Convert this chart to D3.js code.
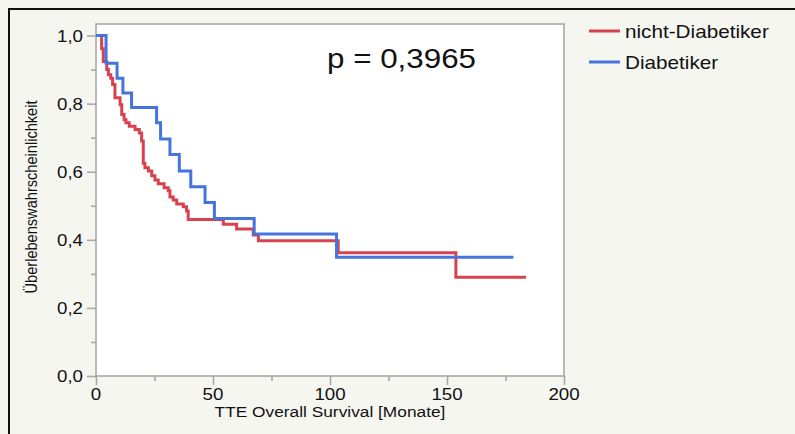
<!DOCTYPE html>
<html>
<head>
<meta charset="utf-8">
<script src="https://cdn.jsdelivr.net/npm/d3@7/dist/d3.min.js"></script>
<style>
  html, body { margin: 0; padding: 0; background: #f6f6f1; }
  svg { display: block; }
  text { font-family: "Liberation Sans", Arial, Helvetica, sans-serif; fill: #111; }
</style>
</head>
<body>
<svg id="chart" width="795" height="434"></svg>
<script>
// Kaplan-Meier estimates (time in months, survival probability)
const groups = ["nicht-Diabetiker", "Diabetiker"];
const groupColors = ["#d8424f", "#4474dc"];

const nichtDiabetikerTime = [0, 2.4, 3.1, 4.6, 5.3, 6.3, 7.1, 8.1, 10.3, 11.0, 12.0, 12.8, 14.2, 16.7, 18.5, 19.5, 20.2, 20.9, 22.4, 23.8, 25.2, 26.6, 29.1, 30.9, 31.6, 33.0, 34.5, 37.3, 38.7, 39.4, 54.4, 60.1, 67.2, 69.4, 103.5, 153.8];
const nichtDiabetikerSurv = [1.0, 0.961, 0.924, 0.900, 0.885, 0.875, 0.856, 0.817, 0.797, 0.768, 0.753, 0.744, 0.734, 0.724, 0.714, 0.690, 0.625, 0.612, 0.602, 0.588, 0.576, 0.565, 0.553, 0.544, 0.526, 0.517, 0.505, 0.497, 0.485, 0.460, 0.446, 0.432, 0.414, 0.397, 0.362, 0.290];
const nichtDiabetikerLast = 183.8;

const diabetikerTime = [0, 4.3, 9.0, 11.5, 15.2, 25.9, 27.6, 31.6, 35.6, 40.5, 46.6, 50.6, 67.6, 102.8];
const diabetikerSurv = [1.0, 0.919, 0.875, 0.831, 0.789, 0.744, 0.696, 0.651, 0.602, 0.556, 0.510, 0.463, 0.417, 0.349];
const diabetikerLast = 178.4;

const pValueLabel = "p = 0,3965";
const xTickValues = [0, 50, 100, 150, 200];
const xMinorTicks = [25, 75, 125, 175];
const yTickValues = [0, 0.2, 0.4, 0.6, 0.8, 1.0];
const yMinorTicks = [0.1, 0.3, 0.5, 0.7, 0.9];
const xTitle = "TTE Overall Survival [Monate]";
const yTitle = "Überlebenswahrscheinlichkeit";

// text is rendered slightly widened
const SX = 1.17;

const svg = d3.select("#chart");

// outer frame
svg.append("rect")
  .attr("x", 9).attr("y", 9).attr("width", 800).attr("height", 440)
  .attr("fill", "#f6f6f1").attr("stroke", "#111").attr("stroke-width", 2);

const plot = { left: 96, right: 564, top: 24, bottom: 376 };

const x = d3.scaleLinear().domain([0, 200]).range([plot.left, plot.right]);
const y = d3.scaleLinear().domain([0, 1.034]).range([plot.bottom, plot.top]);

// plot area
svg.append("rect")
  .attr("x", plot.left).attr("y", plot.top)
  .attr("width", plot.right - plot.left).attr("height", plot.bottom - plot.top)
  .attr("fill", "#ffffff").attr("stroke", "#a8a8a8").attr("stroke-width", 1.6);

const fmt = d => d3.format(".1f")(d).replace(".", ",");

// x axis
const xAxis = svg.append("g").attr("transform", `translate(0,${plot.bottom})`);
xAxis.append("g").call(d3.axisBottom(x).tickValues(xMinorTicks).tickSize(5).tickFormat(""))
  .call(g => g.select(".domain").remove());
xAxis.append("g").call(d3.axisBottom(x).tickValues(xTickValues).tickSize(9).tickFormat(""))
  .call(g => g.select(".domain").remove());
xAxis.selectAll("line").attr("stroke", "#a8a8a8").attr("stroke-width", 1.6);

xTickValues.forEach(v => {
  svg.append("text")
    .attr("transform", `translate(${x(v)},400) scale(${SX},1)`)
    .attr("text-anchor", "middle").attr("font-size", 16)
    .text(d3.format("d")(v));
});

// y axis
const yAxis = svg.append("g").attr("transform", `translate(${plot.left},0)`);
yAxis.append("g").call(d3.axisLeft(y).tickValues(yMinorTicks).tickSize(5).tickFormat(""))
  .call(g => g.select(".domain").remove());
yAxis.append("g").call(d3.axisLeft(y).tickValues(yTickValues).tickSize(9).tickFormat(""))
  .call(g => g.select(".domain").remove());
yAxis.selectAll("line").attr("stroke", "#a8a8a8").attr("stroke-width", 1.6);

yTickValues.forEach(v => {
  svg.append("text")
    .attr("transform", `translate(83,${y(v) + 6}) scale(${SX},1)`)
    .attr("text-anchor", "end").attr("font-size", 16)
    .text(fmt(v));
});

// axis titles
svg.append("text")
  .attr("transform", `translate(${(plot.left + plot.right) / 2},417) scale(${SX},1)`)
  .attr("text-anchor", "middle").attr("font-size", 14.8)
  .text(xTitle);

svg.append("text")
  .attr("transform", `translate(37,${(plot.top + plot.bottom) / 2 - 3}) scale(${SX},1) rotate(-90)`)
  .attr("text-anchor", "middle").attr("font-size", 14.6)
  .text(yTitle);

// survival curves
const series = [
  { times: nichtDiabetikerTime, surv: nichtDiabetikerSurv, last: nichtDiabetikerLast },
  { times: diabetikerTime, surv: diabetikerSurv, last: diabetikerLast }
];

const line = d3.line()
  .x(d => x(d[0]))
  .y(d => y(d[1]))
  .curve(d3.curveStepAfter);

series.forEach((s, i) => {
  const pts = s.times.map((t, k) => [t, s.surv[k]]);
  pts.push([s.last, s.surv[s.surv.length - 1]]);
  svg.append("path")
    .datum(pts)
    .attr("d", line)
    .attr("fill", "none")
    .attr("stroke", groupColors[i])
    .attr("stroke-width", 3)
    .attr("stroke-linejoin", "miter");
});

// p-value annotation
svg.append("text")
  .attr("transform", `translate(327,68) scale(1.12,1)`)
  .attr("font-size", 28)
  .text(pValueLabel);

// legend
groups.forEach((name, i) => {
  const ly = 31 + i * 31;
  svg.append("line")
    .attr("x1", 589).attr("x2", 620).attr("y1", ly).attr("y2", ly)
    .attr("stroke", groupColors[i]).attr("stroke-width", 3);
  svg.append("text")
    .attr("transform", `translate(625,${ly + 7}) scale(${SX},1)`)
    .attr("font-size", 17.7)
    .text(name);
});
</script>
</body>
</html>
